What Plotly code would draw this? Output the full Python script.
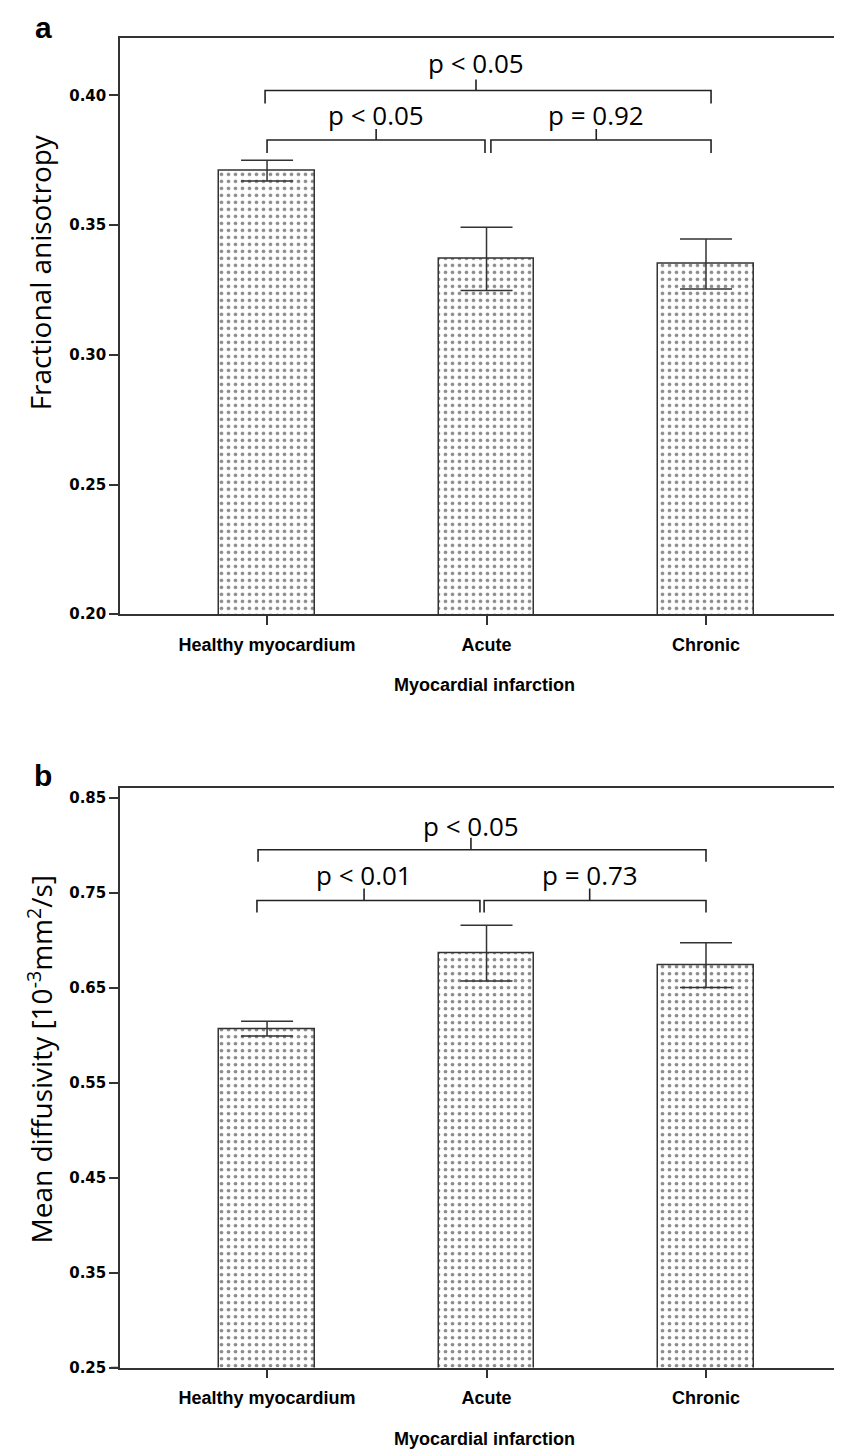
import plotly.graph_objects as go

# ---------------- data ----------------
categories = ["Healthy myocardium", "Acute", "Chronic"]
fa_mean = [0.371, 0.337, 0.335]
fa_err = [0.004, 0.0122, 0.0096]
md_mean = [0.607, 0.6866, 0.6741]
md_err = [0.0078, 0.0294, 0.0236]

fa_pairs = [(0, 2), (0, 1), (1, 2)]
fa_pvals = ["p < 0.05", "p < 0.05", "p = 0.92"]
md_pairs = [(0, 2), (0, 1), (1, 2)]
md_pvals = ["p < 0.05", "p < 0.01", "p = 0.73"]

fa_ticks = [0.20, 0.25, 0.30, 0.35, 0.40]
md_ticks = [0.25, 0.35, 0.45, 0.55, 0.65, 0.75, 0.85]

# ---------------- layout geometry ----------------
W, H = 842, 1450
X0_PX, X1_PX = 112, 840
A_TOP, A_BOT = 30, 610
B_TOP, B_BOT = 785, 1368
XRANGE = [-0.67, 2.647]
BAR_W = 0.437

# bracket geometry: level, left offset, right offset, tick x, text y
fa_geom = [
    dict(level=0.4019, lo=-0.009, ro=0.023, tx=0.952, ty=0.4126),
    dict(level=0.3828, lo=0.0, ro=-0.007, tx=0.497, ty=0.3923),
    dict(level=0.3828, lo=0.020, ro=0.023, tx=1.50, ty=0.3923),
]
fa_drop, fa_tick = 0.005, 0.0042
md_geom = [
    dict(level=0.7955, lo=-0.041, ro=0.0, tx=0.929, ty=0.8209),
    dict(level=0.7421, lo=-0.046, ro=-0.030, tx=0.442, ty=0.7686),
    dict(level=0.7421, lo=-0.011, ro=0.0, tx=1.47, ty=0.7686),
]
md_drop, md_tick = 0.0126, 0.0126

LINE = "#333333"
xs = list(range(len(categories)))

fig = go.Figure()


def add_bars(mean, err, xa, ya):
    fig.add_trace(go.Bar(
        x=xs, y=mean, width=BAR_W, xaxis=xa, yaxis=ya,
        marker=dict(color="white", line=dict(color=LINE, width=1.5),
                    pattern=dict(shape=".", fgcolor="#1a1a1a", bgcolor="white",
                                 size=7, solidity=0.22)),
        error_y=dict(type="data", array=err, visible=True, color=LINE,
                     thickness=1.5, width=26),
        hoverinfo="skip",
    ))


def add_brackets(pairs, pvals, geom, drop, tick, xa, ya, xref, yref):
    for (i, j), p, g in zip(pairs, pvals, geom):
        xl = i + g["lo"]
        xr = j + g["ro"]
        lv = g["level"]
        fig.add_trace(go.Scatter(
            x=[xl, xl, xr, xr, None, g["tx"], g["tx"]],
            y=[lv - drop, lv, lv, lv - drop, None, lv, lv + tick],
            mode="lines", line=dict(color="#222222", width=1.6),
            xaxis=xa, yaxis=ya, hoverinfo="skip",
        ))
        fig.add_annotation(x=g["tx"], y=g["ty"], xref=xref, yref=yref,
                           text=p, showarrow=False, xanchor="center",
                           yanchor="middle",
                           font=dict(family="Open Sans", size=26, color="black"))


add_bars(fa_mean, fa_err, "x", "y")
add_bars(md_mean, md_err, "x2", "y2")
add_brackets(fa_pairs, fa_pvals, fa_geom, fa_drop, fa_tick, "x", "y", "x", "y")
add_brackets(md_pairs, md_pvals, md_geom, md_drop, md_tick, "x2", "y2", "x2", "y2")


def pyfrac(px):
    return 1 - px / H


xdom = [X0_PX / W, X1_PX / W]
common_x = dict(
    domain=xdom, range=XRANGE, tickvals=xs, ticktext=categories,
    ticks="outside", ticklen=9, tickwidth=1.5, tickcolor=LINE,
    showline=True, linecolor=LINE, linewidth=1.5, mirror=True,
    showgrid=False, zeroline=False,
    tickfont=dict(family="Liberation Sans", size=18, color="black", weight="bold"),
    ticklabelstandoff=4, fixedrange=True,
)
common_y = dict(
    ticks="outside", ticklen=9, tickwidth=1.5, tickcolor=LINE,
    showline=True, linecolor=LINE, linewidth=1.5, mirror=True,
    showgrid=False, zeroline=False, tickformat=".2f",
    tickfont=dict(family="DejaVu Sans", size=15, color="black", weight="bold"),
    fixedrange=True,
)

fig.update_layout(
    width=W, height=H, margin=dict(l=0, r=0, t=0, b=0),
    plot_bgcolor="white", paper_bgcolor="white", showlegend=False,
    bargap=0,
    xaxis=dict(anchor="y", **common_x),
    xaxis2=dict(anchor="y2", **common_x),
    yaxis=dict(anchor="x", domain=[pyfrac(A_BOT), pyfrac(A_TOP)],
               range=[0.20, 0.4222], tickvals=fa_ticks, **common_y),
    yaxis2=dict(anchor="x2", domain=[pyfrac(B_BOT), pyfrac(B_TOP)],
                range=[0.25, 0.8605], tickvals=md_ticks, **common_y),
)

# x-axis baseline extends slightly left of the y axis
for ya, y0 in (("y", 0.20), ("y2", 0.25)):
    fig.add_shape(type="line", xref="paper", yref=ya, x0=103 / W, x1=X0_PX / W,
                  y0=y0, y1=y0, line=dict(color=LINE, width=1.5))

# axis titles and panel letters
title_font = dict(family="Open Sans", size=28, color="black")
fig.add_annotation(text="Fractional anisotropy", textangle=-90,
                   x=32 / W, y=pyfrac(266), xref="paper", yref="paper",
                   xanchor="center", yanchor="middle",
                   showarrow=False, font=title_font)
fig.add_annotation(text="Mean diffusivity [10<sup>-3</sup>mm<sup>2</sup>/s]",
                   textangle=-90, x=32 / W, y=pyfrac(1058), xref="paper",
                   yref="paper", xanchor="center", yanchor="middle",
                   showarrow=False, font=title_font)

xt_font = dict(family="Liberation Sans", size=18, color="black", weight="bold")
for ypx in (681, 1440):
    fig.add_annotation(text="Myocardial infarction", x=(X0_PX + X1_PX) / 2 / W,
                       y=pyfrac(ypx), xref="paper", yref="paper",
                       xanchor="center", yanchor="middle",
                       showarrow=False, font=xt_font)

letter_font = dict(family="Liberation Sans", size=30, color="black", weight="bold")
fig.add_annotation(text="a", x=35 / W, y=pyfrac(20), xref="paper", yref="paper",
                   xanchor="center", yanchor="middle",
                   showarrow=False, font=letter_font)
fig.add_annotation(text="b", x=35 / W, y=pyfrac(772), xref="paper", yref="paper",
                   xanchor="center", yanchor="middle",
                   showarrow=False, font=letter_font)

fig.write_html("out.html")
